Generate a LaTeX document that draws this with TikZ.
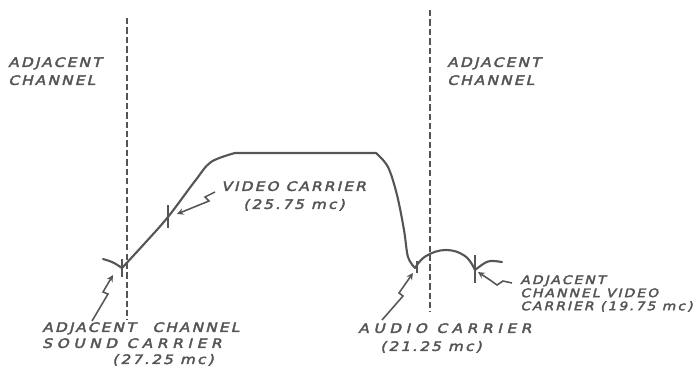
\documentclass[tikz,border=0pt]{standalone}
\usepackage{fontspec}
\usepackage{tikz}
\usetikzlibrary{arrows}
\newfontfamily\handfont{DejaVu Sans}[FakeSlant=0.25, FakeStretch=1.18, FakeBold=3, LetterSpace=17]
\definecolor{ink}{HTML}{555555}

\begin{document}
\begin{tikzpicture}[x=0.025cm, y=-0.025cm]
\tikzstyle{label} = [anchor=north west, inner sep=0pt, align=left, text=ink, font=\handfont\fontsize{9.2}{12.8}\selectfont]
\tikzstyle{trace} = [draw=ink, line width=1.5pt, line cap=round, line join=round]
\tikzstyle{edge} = [draw=ink, dash pattern=on 4.5pt off 2.2pt, line width=1.3pt]
\tikzstyle{tick} = [draw=ink, line width=1.2pt]
\tikzstyle{arrow} = [draw=ink, line width=1.1pt, ->, >=stealth]
\useasboundingbox (0,0) rectangle (698,368);

% channel edges
\draw [edge] (127,18) -- (127,320);
\draw [edge] (430,10) -- (430,312);

\node (leftadj) [label] at (8,57) {ADJACENT\\CHANNEL};
\node (rightadj) [label] at (447,57) {ADJACENT\\CHANNEL};

% carriers
\coordinate (scar) at (122,268);
\coordinate (vcar) at (168,217);
\coordinate (acar) at (415,268);
\coordinate (avcar) at (475,270);

% response curve
\draw [trace] plot [smooth, tension=0.55] coordinates {(scar) (145,243) (vcar) (195,181) (211,162) (235,153)}
  -- (376,153)
  plot [smooth, tension=0.55] coordinates {(376,153) (388,167) (397,195) (404,230) (408,257) (acar)};
\draw [trace] (103,259) .. controls (113,262) .. (scar);
\draw [trace] plot [smooth, tension=0.7] coordinates {(acar) (426,256) (446,250) (465,256) (avcar)};
\draw [trace] (502,262) .. controls (488,260) .. (avcar);

\draw [tick] (122,259) -- (122,277);
\draw [tick] (168,205) -- (168,228);
\draw [tick] (417,261) -- (417,273);
\draw [tick] (475,255) -- (475,283);

\node (vlabel) [label] at (221,181) {VIDEO CARRIER\\\hspace*{0.55cm}(25.75 mc)};
\node (slabel) [label, font=\handfont\fontsize{9.2}{11.4}\selectfont] at (42,322) {ADJACENT\hspace{0.25cm} CHANNEL\\{\addfontfeature{LetterSpace=36}SOUND CARRIER}\\\hspace*{1.75cm}(27.25 mc)};
\node (alabel) [label] at (358,323) {{\addfontfeature{LetterSpace=36}AUDIO CARRIER}\\\hspace*{0.55cm}(21.25 mc)};
\node (avlabel) [label, font=\handfont\fontsize{8.4}{9.3}\selectfont] at (520,275) {ADJACENT\\CHANNEL VIDEO\\CARRIER (19.75 mc)};

% pointers
\coordinate (vtail) at (215,192);
\coordinate (stail) at (92,321);
\coordinate (atail) at (382,320);
\coordinate (avtail) at (512,283);
\draw [arrow] (vtail) -- (205,197) -- (209,201) -- (177,214);
\draw [arrow] (stail) -- (108,294) -- (103,292) -- (113,275);
\draw [arrow] (atail) -- (403,296) -- (399,293) -- (413,273);
\draw [arrow] (avtail) -- (503,281) -- (497,285) -- (490,280) -- (478,272);
\end{tikzpicture}
\end{document}
